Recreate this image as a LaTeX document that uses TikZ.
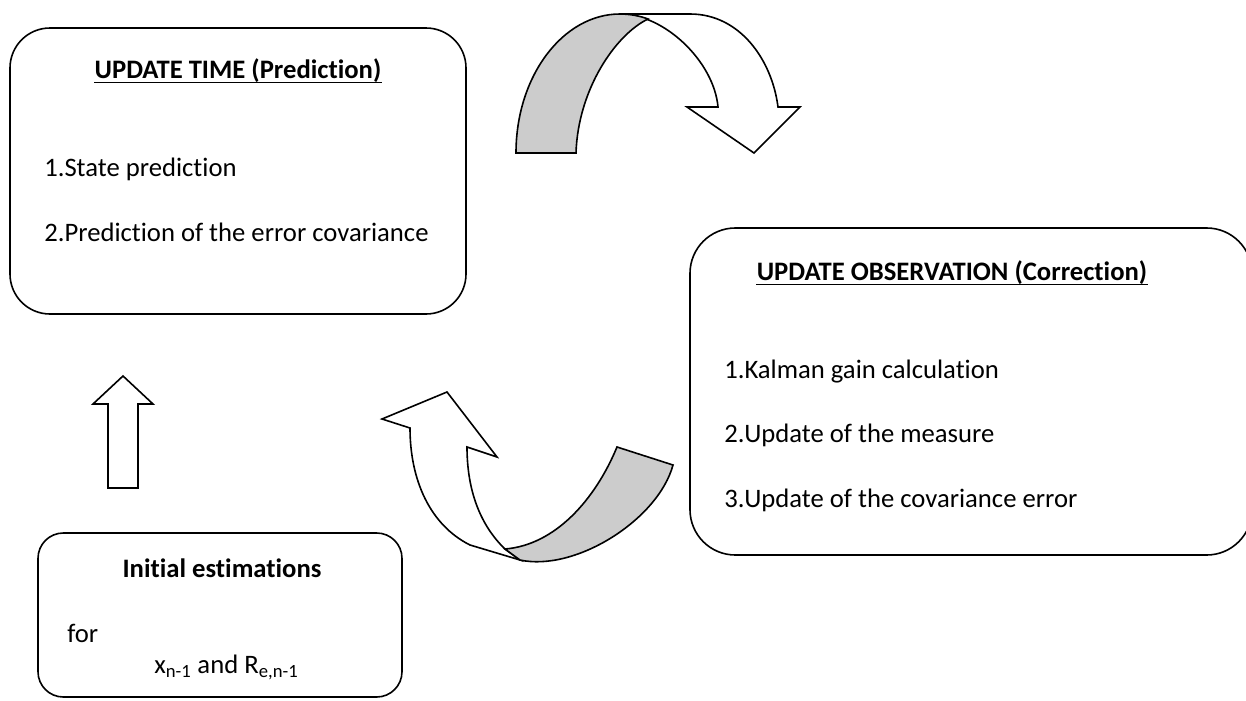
\documentclass[tikz,border=0pt]{standalone}
\usepackage{fontspec}
\setmainfont{Carlito}[Ligatures=NoCommon]
\usepackage{xcolor}
\usepackage{tikz}
\usetikzlibrary{positioning,calc}
\definecolor{ribbon}{HTML}{CCCCCC}
\tikzset{
  panel/.style={draw, line width=1.2pt, rounded corners=30pt, inner sep=0pt},
  title/.style={anchor=base, font=\bfseries, inner sep=0pt},
  item/.style={anchor=base west, inner sep=0pt},
  uline/.style={line width=1.2pt},
  blockarrow/.style={draw, line width=1.2pt, fill=white, line join=miter},
  back/.style={draw, line width=1.2pt, fill=ribbon, line join=miter}
}

\begin{document}
\fontsize{20}{24}\selectfont
\begin{tikzpicture}[x=0.75pt,y=-0.75pt]
  \useasboundingbox (0,0) rectangle (1246,700);
  % boxes
  \node[panel, minimum width=342pt, minimum height=214.5pt] (predict) at (238,171) {};
  \node[panel, rounded corners=34pt, minimum width=421.5pt, minimum height=245.25pt] (correct) at (971,391.5) {};
  \node[panel, rounded corners=19pt, minimum width=273pt, minimum height=123pt] (init) at (220,615) {};
  % texts
  \node[title] (predtitle) at (238,78) {UPDATE TIME (Prediction)};
  \draw[uline] ([yshift=-3.5pt]predtitle.base west) -- ([yshift=-3.5pt]predtitle.base east);
  \node[item] (pred1) at (44,176) {1.State prediction};
  \node[item] (pred2) at (44,241) {2.Prediction of the error covariance};
  \node[title] (corrtitle) at (952,280) {UPDATE OBSERVATION (Correction)};
  \draw[uline] ([yshift=-3.5pt]corrtitle.base west) -- ([yshift=-3.5pt]corrtitle.base east);
  \node[item] (corr1) at (724,378) {1.Kalman gain calculation};
  \node[item] (corr2) at (724,442) {2.Update of the measure};
  \node[item] (corr3) at (724,507) {3.Update of the covariance error};
  \node[title] (inittitle) at (222,577) {Initial estimations};
  \node[item] (initfor) at (67,642) {for};
  \node[item] (initvars) at (154,673) {x\textsubscript{n-1} and R\textsubscript{e,n-1}};
  % up arrow
  \draw[blockarrow] (108,488) -- (108,404) -- (93,404) -- (123,376) -- (153,404)
    -- (138,404) -- (138,488) -- cycle;
  % top curved arrow
  \draw[blockarrow] (620,14) -- (690,14) .. controls (740,14) and (772,60) .. (778,107)
    -- (800,107) -- (754,153) -- (687,107) -- (718,107)
    .. controls (714,62) and (665,14) .. (620,14) -- cycle;
  \draw[back] (516,153) .. controls (516,76) and (563,14) .. (620,14)
    .. controls (630,14) and (640,16) .. (648,19)
    .. controls (615,35) and (578,90) .. (576,153) -- cycle;
  % bottom curved arrow
  \draw[blockarrow] (410,428) .. controls (410,480) and (430,525) .. (470,545)
    -- (520,560) -- (505,549) .. controls (480,525) and (467,490) .. (467,447)
    -- (497,457) -- (447,392) -- (382,419) -- cycle;
  \draw[back] (505,549) -- (520,560) .. controls (575,572) and (658,520) .. (673,465)
    -- (617,447) .. controls (595,500) and (555,545) .. (505,549) -- cycle;
\end{tikzpicture}
\end{document}
